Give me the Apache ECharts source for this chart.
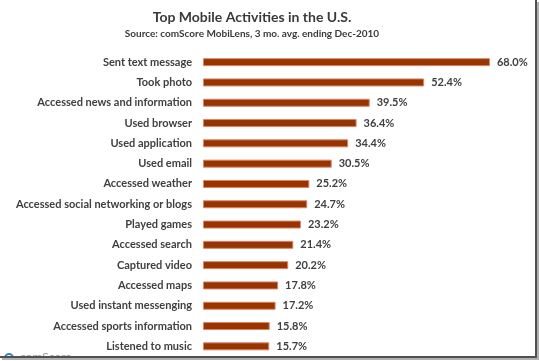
<!DOCTYPE html>
<html><head><meta charset="utf-8">
<script src="https://cdn.jsdelivr.net/npm/echarts@6/dist/echarts.min.js"></script>
<style>html,body{margin:0;padding:0;background:#fff}#c{width:539px;height:361px}</style>
</head><body><div id="c"></div>
<script>
const categories = ["Sent text message","Took photo","Accessed news and information","Used browser","Used application","Used email","Accessed weather","Accessed social networking or blogs","Played games","Accessed search","Captured video","Accessed maps","Used instant messenging","Accessed sports information","Listened to music"];
const values = [68.0,52.4,39.5,36.4,34.4,30.5,25.2,24.7,23.2,21.4,20.2,17.8,17.2,15.8,15.7];
const titleText = "Top Mobile Activities in the U.S.";
const subtitleText = "Source: comScore MobiLens, 3 mo. avg. ending Dec-2010";
const FONT = "Lato";
const chart = echarts.init(document.getElementById('c'), null, {renderer:'canvas'});
chart.setOption({
  animation:false,
  backgroundColor:'#fff',
  title:[
    {text:titleText, left:252, top:10, textAlign:'center', padding:0,
     textStyle:{fontFamily:FONT, fontSize:14, fontWeight:'bold', color:'#3a3a3a', lineHeight:14}},
    {text:subtitleText, left:252, top:29, textAlign:'center', padding:0,
     textStyle:{fontFamily:FONT, fontSize:10, fontWeight:'bold', color:'#3a3a3a', lineHeight:10}}
  ],
  grid:{left:203, top:52, width:295.4, height:304.5, containLabel:false},
  xAxis:{type:'value', min:0, max:70, show:false},
  yAxis:{type:'category', data:categories, inverse:true,
    axisLine:{show:false}, axisTick:{show:false}, splitLine:{show:false},
    axisLabel:{margin:11, fontFamily:FONT, fontSize:11, fontWeight:'bold', color:'#404040'}},
  series:[{type:'bar', data:values, barWidth:8,
    itemStyle:{color:'#993300', borderColor:'#d4876a', borderWidth:1},
    label:{show:true, position:'right', distance:7, formatter:p=>p.value.toFixed(1)+'%',
      fontFamily:FONT, fontSize:11, fontWeight:'bold', color:'#404040'}}],
  graphic:[
    {type:'circle', shape:{cx:9, cy:358, r:4}, style:{fill:'none', stroke:'#3b7fc4', lineWidth:2}, z:10},
    {type:'text', x:20, y:351, style:{text:'comScore', fontFamily:FONT, fontSize:12, fill:'#9a9a9a'}, z:10},
    {type:'rect', shape:{x:0, y:357, width:539, height:4}, style:{fill:'#fff'}, z:20},
    {type:'rect', shape:{x:0, y:356, width:537, height:2}, style:{fill:'#505050'}, z:21},
    {type:'rect', shape:{x:535, y:0, width:2, height:358}, style:{fill:'#505050'}, z:21},
    {type:'rect', shape:{x:2, y:358, width:537, height:2}, style:{fill:'#b0b0b0'}, z:21},
    {type:'rect', shape:{x:537, y:2, width:2, height:358}, style:{fill:'#b0b0b0'}, z:21}
  ]
});
</script></body></html>
